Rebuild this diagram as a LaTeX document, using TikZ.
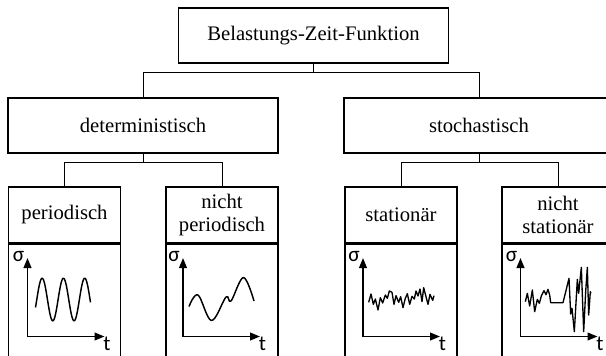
\documentclass[tikz,border=0pt]{standalone}
\usepackage{fontspec}
\setmainfont{Liberation Serif}
\newfontfamily\axisfont{Carlito}
\usetikzlibrary{arrows.meta}
\begin{document}
\begin{tikzpicture}[x=0.75pt,y=-0.75pt,
  box/.style={draw, inner sep=0pt, align=center,
    font=\fontsize{15.5}{17.5}\selectfont},
  widebox/.style={box, line width=1.2pt, minimum width=202.5pt, minimum height=41.25pt},
  leafbox/.style={box, line width=1pt, minimum width=84pt, minimum height=42pt},
  plotbox/.style={draw, line width=1pt, minimum width=84pt, minimum height=93pt,
    inner sep=0pt, anchor=north},
  link/.style={draw, line width=0.7pt},
  axis/.style={line width=1.3pt, -{Triangle[length=7.5pt,width=5.8pt]}},
  signal/.style={line width=1.1pt, line join=round},
  axlabel/.style={font=\axisfont\fontsize{16}{16}\selectfont, inner sep=0pt}
]
\useasboundingbox (0,0) rectangle (606,355);
\clip (0,0) rectangle (606,355);

% hierarchy boxes
\node[widebox, line width=1.4pt] (root) at (313.5,35.5) {Belastungs-Zeit-Funktion};
\node[widebox] (det) at (143,125.5) {deterministisch};
\node[widebox] (sto) at (479,125.5) {stochastisch};

\node[leafbox] (per)  at (64.5,215) {periodisch};
\node[leafbox] (nper) at (222,215)  {nicht\\periodisch};
\node[leafbox] (sta)  at (401,215)  {stationär};
\node[leafbox] (nsta) at (558,215)  {nicht\\stationär};

% lower compartments holding the sketches
\node[plotbox] (perplot)  at (per.south)  {};
\node[plotbox] (nperplot) at (nper.south) {};
\node[plotbox] (staplot)  at (sta.south)  {};
\node[plotbox] (nstaplot) at (nsta.south) {};

% tree connectors
\draw[link] (root.south) -- ++(0,9) -| (det.north);
\draw[link] (root.south) -- ++(0,9) -| (sto.north);
\draw[link] (det.south) -- ++(0,9) -| (per.north);
\draw[link] (det.south) -- ++(0,9) -| (nper.north);
\draw[link] (sto.south) -- ++(0,9) -| (sta.north);
\draw[link] (sto.south) -- ++(0,9) -| (nsta.north);

% sigma-t axes
\coordinate (o1) at (27.5,336.5);
\coordinate (o2) at (183,336.5);
\coordinate (o3) at (363,336.5);
\coordinate (o4) at (520.5,336.5);
\foreach \o in {o1,o2,o3,o4} {
  \draw[axis] (\o) -- ++(0,-78.5);
  \draw[axis] (\o) -- ++(77,0);
  \node[axlabel] at ([shift={(-9,-80.5)}]\o) {σ};
  \node[axlabel] at ([shift={(79.5,7.5)}]\o) {t};
}

% periodic signal
\draw[signal] plot[domain=35.5:90.5, samples=120, smooth]
  (\x,{299.5-21.3*sin((\x-36.8)*16.9014)});

% non-periodic signal
\draw[signal] plot[smooth, tension=0.6] coordinates {
  (189,306.5) (198,295) (211.5,320.5) (226,297) (231,301) (243.5,277.5) (254,301)};

% stationary random signal
\begin{scope}[shift={(362,275)}, scale=1/3]
\draw[signal, line width=1pt] (20,82) -- (27,57) -- (34,88) -- (40,72) -- (48,105)
  -- (55,68) -- (62,84) -- (70,60) -- (76,70) -- (82,48) -- (90,52) -- (96,88)
  -- (102,62) -- (110,82) -- (116,65) -- (123,98) -- (130,70) -- (136,56)
  -- (143,88) -- (150,64) -- (157,72) -- (162,48) -- (168,63) -- (174,42)
  -- (180,80) -- (185,38) -- (192,65) -- (198,88) -- (204,58) -- (212,76) -- (216,62);
\end{scope}

% non-stationary random signal
\begin{scope}[shift={(518,260)}, scale=1/3]
\draw[signal, line width=1pt] (22,125) -- (28,100) -- (35,138) -- (43,90) -- (50,155)
  -- (58,118) -- (64,130) -- (70,108) -- (78,92) -- (84,104) -- (90,88) -- (95,105)
  -- (98,128) -- (135,128) -- (153,55) -- (158,162) -- (162,145) -- (169,215)
  -- (178,58) -- (182,100) -- (190,22) -- (197,215) -- (203,95) -- (208,22)
  -- (212,165) -- (217,95) -- (219,100);
\end{scope}
\end{tikzpicture}
\end{document}
